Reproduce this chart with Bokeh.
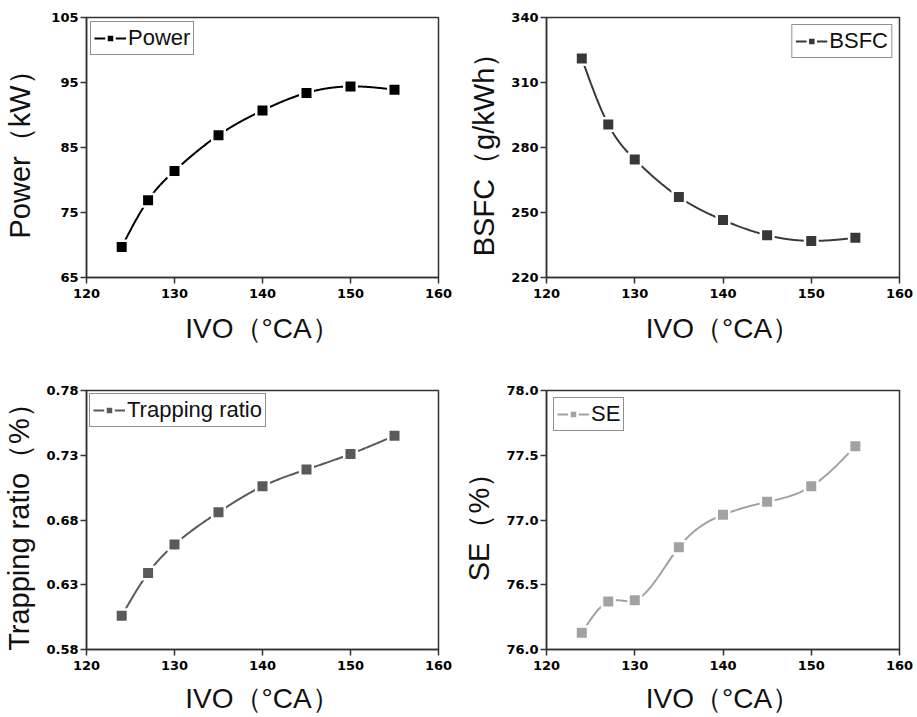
import numpy as np
from bokeh.plotting import figure
from bokeh.layouts import column, row
from bokeh.models import FixedTicker, NumeralTickFormatter, Range1d
from bokeh.embed import file_html
from bokeh.resources import INLINE

# ---- data ----
ivo = [124, 127, 130, 135, 140, 145, 150, 155]
power = [69.7, 76.9, 81.4, 86.9, 90.7, 93.4, 94.4, 93.9]
bsfc = [321.1, 290.6, 274.5, 257.2, 246.5, 239.5, 236.9, 238.3]
trapping = [0.606, 0.639, 0.661, 0.686, 0.706, 0.719, 0.731, 0.745]
se = [76.13, 76.37, 76.38, 76.79, 77.04, 77.14, 77.26, 77.57]

x_ticks = [120, 130, 140, 150, 160]
power_ticks = [65, 75, 85, 95, 105]
bsfc_ticks = [220, 250, 280, 310, 340]
trap_ticks = [0.58, 0.63, 0.68, 0.73, 0.78]
se_ticks = [76.0, 76.5, 77.0, 77.5, 78.0]

FONT = "Liberation Sans"
TICK_FONT = "DejaVu Sans"


def spline(xs, ys, n=400):
    """Natural cubic spline through the data points (display smoothing only)."""
    x = np.asarray(xs, float)
    y = np.asarray(ys, float)
    k = len(x)
    h = np.diff(x)
    A = np.zeros((k, k))
    b = np.zeros(k)
    A[0, 0] = 1
    A[-1, -1] = 1
    for i in range(1, k - 1):
        A[i, i - 1] = h[i - 1]
        A[i, i] = 2 * (h[i - 1] + h[i])
        A[i, i + 1] = h[i]
        b[i] = 3 * ((y[i + 1] - y[i]) / h[i] - (y[i] - y[i - 1]) / h[i - 1])
    c = np.linalg.solve(A, b)
    xx = np.linspace(x[0], x[-1], n)
    idx = np.clip(np.searchsorted(x, xx, side="right") - 1, 0, k - 2)
    dx = xx - x[idx]
    bb = (y[idx + 1] - y[idx]) / h[idx] - h[idx] * (2 * c[idx] + c[idx + 1]) / 3
    d = (c[idx + 1] - c[idx]) / (3 * h[idx])
    yy = y[idx] + bb * dx + c[idx] * dx ** 2 + d * dx ** 3
    return xx, yy


def panel(yvals, yticks, yrange, ylabel, label, color, width, height,
          bl, br, bt, bb, legend_loc, legend_margin, xstand, ystand,
          yfmt=None):
    p = figure(width=width, height=height, output_backend="svg",
               toolbar_location=None,
               x_range=Range1d(120, 160), y_range=Range1d(*yrange),
               min_border_left=bl, min_border_right=br,
               min_border_top=bt, min_border_bottom=bb)
    p.grid.visible = False
    p.outline_line_color = "#333333"
    p.outline_line_width = 1.5
    p.background_fill_color = "white"
    p.border_fill_color = "white"

    xs, ys = spline(ivo, yvals)
    p.line(xs, ys, line_color=color, line_width=2, legend_label=label)
    p.scatter(ivo, yvals, marker="square", size=12.5, fill_color=color,
              line_color="white", line_width=2.5, legend_label=label)

    p.xaxis.ticker = FixedTicker(ticks=x_ticks)
    p.yaxis.ticker = FixedTicker(ticks=yticks)
    if yfmt:
        p.yaxis.formatter = NumeralTickFormatter(format=yfmt)

    for ax in (p.xaxis[0], p.yaxis[0]):
        ax.axis_line_color = "#333333"
        ax.axis_line_width = 1.5
        ax.major_tick_line_color = "#333333"
        ax.major_tick_line_width = 1.5
        ax.major_tick_in = 0
        ax.major_tick_out = 6
        ax.minor_tick_line_color = None
        ax.major_label_text_font = TICK_FONT
        ax.major_label_text_font_style = "bold"
        ax.major_label_text_font_size = "13px"
        ax.major_label_text_color = "#000000"
        ax.axis_label_text_font = FONT
        ax.axis_label_text_font_style = "normal"
        ax.axis_label_text_color = "#111111"
    xa, ya = p.xaxis[0], p.yaxis[0]
    xa.axis_label_text_font_size = "28px"
    ya.axis_label_text_font_size = "29px"
    xa.major_label_standoff = 5
    xa.axis_label_standoff = xstand
    ya.major_label_standoff = 2
    ya.axis_label_standoff = ystand
    xa.axis_label = "IVO（°CA）"
    ya.axis_label = ylabel

    lg = p.legend[0]
    lg.location = legend_loc
    lg.margin = legend_margin
    lg.padding = 3
    lg.spacing = 0
    lg.glyph_width = 32
    lg.glyph_height = 20
    lg.label_height = 20
    lg.label_standoff = 2
    lg.label_text_font = FONT
    lg.label_text_font_size = "22px"
    lg.label_text_color = "#111111"
    lg.border_line_color = "#222222"
    lg.border_line_width = 1.2
    lg.background_fill_alpha = 1
    return p


LW, RW = 460, 456
TH, BH = 349, 367

p1 = panel(power, power_ticks, (65, 105), "Power（kW）", "Power", "#000000",
           LW, TH, 86, 22, 17, 72, "top_left", 4, 12, 12)
p2 = panel(bsfc, bsfc_ticks, (220, 340), "BSFC（g/kWh）", "BSFC", "#383838",
           RW, TH, 86, 17, 17, 72, "top_right", 7, 12, 8)
p3 = panel(trapping, trap_ticks, (0.58, 0.78), "Trapping ratio（%）",
           "Trapping ratio", "#5a5a5a", LW, BH, 86, 22, 41, 67, "top_left", 3,
           10, 8, yfmt="0.00")
p4 = panel(se, se_ticks, (76.0, 78.0), "SE（%）", "SE", "#a2a2a2",
           RW, BH, 86, 17, 41, 67, "top_left", 7, 10, 8, yfmt="0.0")

layout = column(row(p1, p2), row(p3, p4))
open("out.html", "w").write(file_html(layout, INLINE))
